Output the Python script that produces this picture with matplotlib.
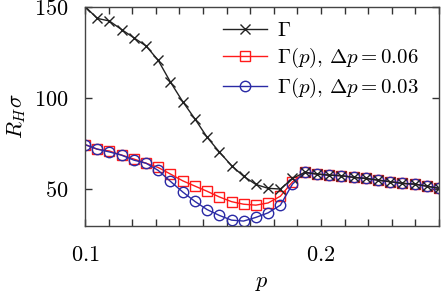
import matplotlib
matplotlib.use('Agg')
import matplotlib.pyplot as plt

plt.rcParams['mathtext.fontset'] = 'cm'
plt.rcParams['font.family'] = 'serif'
plt.rcParams['font.serif'] = ['cmr10', 'DejaVu Serif']
plt.rcParams['axes.formatter.use_mathtext'] = True

# p values of the samples (30 points from 0.1 to 0.25)
p = [0.1000, 0.1052, 0.1103, 0.1155, 0.1207, 0.1259, 0.1310, 0.1362, 0.1414, 0.1466,
     0.1517, 0.1569, 0.1621, 0.1672, 0.1724, 0.1776, 0.1828, 0.1879, 0.1931, 0.1983,
     0.2034, 0.2086, 0.2138, 0.2190, 0.2241, 0.2293, 0.2345, 0.2397, 0.2448, 0.2500]

gamma = [150.0, 143.5, 142.1, 137.4, 132.9, 128.4, 120.6, 108.7, 98.0, 88.5,
         78.6, 70.5, 63.0, 57.2, 52.7, 50.6, 50.2, 56.0, 59.3, 58.4,
         57.8, 57.5, 56.6, 56.0, 55.1, 54.2, 53.3, 52.9, 51.8, 50.6]

gamma_p006 = [74.5, 72.0, 71.0, 68.8, 66.6, 64.3, 62.0, 58.4, 54.7, 51.8,
              49.0, 45.9, 43.3, 41.9, 41.4, 42.6, 46.3, 54.1, 59.3, 58.4,
              57.8, 57.5, 56.6, 56.0, 55.1, 54.2, 53.3, 52.9, 51.8, 50.6]

gamma_p003 = [74.5, 72.0, 70.5, 68.7, 66.0, 64.3, 60.4, 54.4, 48.6, 43.4,
              39.0, 35.8, 33.2, 32.7, 34.7, 37.2, 41.4, 52.9, 59.3, 58.4,
              57.8, 57.5, 56.6, 56.0, 55.1, 54.2, 53.3, 52.9, 51.8, 50.6]

labels = [r'$\Gamma$', r'$\Gamma(p),\,\Delta p = 0.06$', r'$\Gamma(p),\,\Delta p = 0.03$']

fig = plt.figure(figsize=(4.46, 2.93), dpi=100)
ax = fig.add_axes([0.1906, 0.2287, 0.7937, 0.7491])

# draw red, then blue, then black on top
l2, = ax.plot(p, gamma_p006, color='#ff1a1a', lw=1.0, marker='s', ms=7, mfc='none', mew=1.0)
l3, = ax.plot(p, gamma_p003, color='#2a2aa5', lw=1.0, marker='o', ms=7.5, mfc='none', mew=1.0)
l1, = ax.plot(p, gamma, color='#222222', lw=1.0, marker='x', ms=7, mew=1.0)

ax.set_xlim(0.1, 0.25)
ax.set_ylim(30, 150)

xt = [0.1 + 0.01 * i for i in range(16)]
ax.set_xticks(xt)
ax.set_xticklabels(['$0.1$' if i == 0 else '$0.2$' if i == 10 else '' for i in range(16)])
ax.set_yticks([50, 100, 150])
ax.set_yticklabels(['$50$', '$100$', '$150$'])
ax.tick_params(direction='in', length=5, width=1, top=True, right=True,
               labelsize=16, colors='#333333', labelcolor='black')
ax.tick_params(axis='x', pad=14)
ax.tick_params(axis='y', pad=12)
for s in ax.spines.values():
    s.set_color('#444444')
    s.set_linewidth(1.0)

ax.set_xlabel(r'$p$', fontsize=16, labelpad=6)
ax.set_ylabel(r'$R_H\sigma$', fontsize=16, labelpad=4)

ax.legend([l1, l2, l3], labels, loc='upper left', frameon=False, fontsize=15,
          handlelength=2.1, handletextpad=0.5, labelspacing=0.28,
          borderpad=0, borderaxespad=0, bbox_to_anchor=(0.39, 0.93))

fig.savefig('out.png', dpi=100)
